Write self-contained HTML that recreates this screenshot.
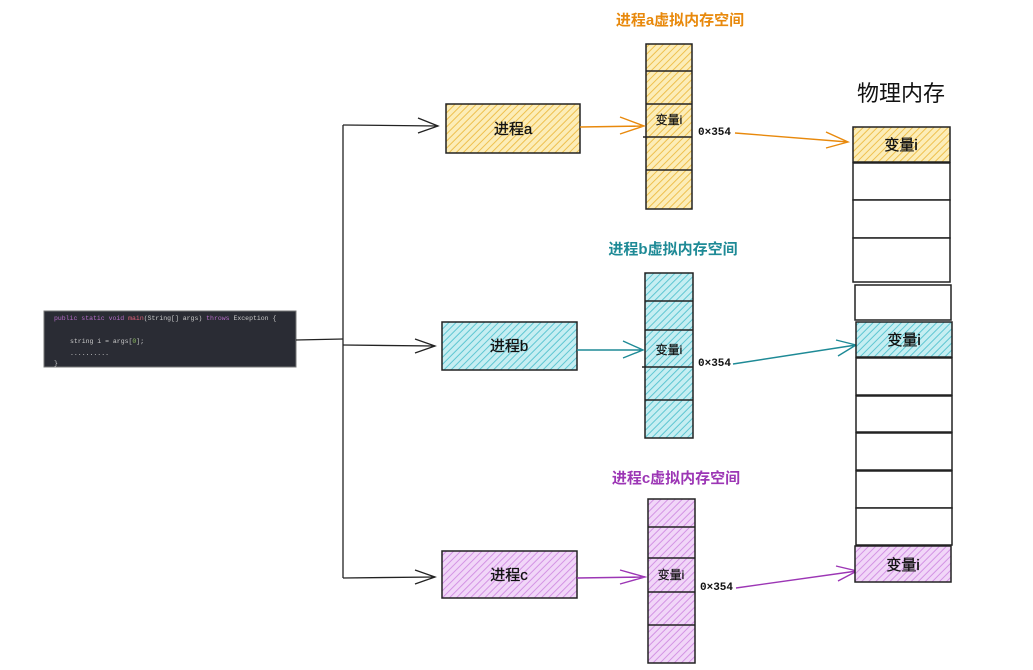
<!DOCTYPE html>
<html><head><meta charset="utf-8"><style>
html,body{margin:0;padding:0;background:#fff;}
svg{display:block;font-family:"Liberation Sans","Noto Sans CJK SC",sans-serif;}
</style></head><body>
<svg width="1033" height="670" viewBox="0 0 1033 670" xmlns="http://www.w3.org/2000/svg">
<defs>
<pattern id="hy" width="5" height="5" patternUnits="userSpaceOnUse" patternTransform="rotate(45)"><rect width="5" height="5" fill="#fcedb8"/><line x1="0" y1="0" x2="0" y2="5" stroke="#eec04e" stroke-width="2"/></pattern>
<pattern id="hc" width="5" height="5" patternUnits="userSpaceOnUse" patternTransform="rotate(45)"><rect width="5" height="5" fill="#c6eef2"/><line x1="0" y1="0" x2="0" y2="5" stroke="#5ec6d2" stroke-width="2"/></pattern>
<pattern id="hp" width="5" height="5" patternUnits="userSpaceOnUse" patternTransform="rotate(45)"><rect width="5" height="5" fill="#f1d6f8"/><line x1="0" y1="0" x2="0" y2="5" stroke="#d393e4" stroke-width="2"/></pattern>
</defs>

<rect x="44" y="311" width="252" height="56" fill="#2a2c34" stroke="#777" stroke-width="1"/>
<g font-family="Liberation Mono, monospace" font-size="6.5" fill="#c8c8c8">
<text x="54" y="320"><tspan fill="#b56cc8">public static void </tspan><tspan fill="#e0607a">main</tspan>(String[] args) <tspan fill="#b56cc8">throws</tspan> Exception {</text>
<text x="70" y="343">string i = args[<tspan fill="#8fc060">0</tspan>];</text>
<text x="70" y="355">..........</text>
<text x="54" y="365">}</text>
</g>

<g stroke="#222" stroke-width="1.3" fill="none">
<path d="M296 340 L343 339"/>
<path d="M343 125 L343 578"/>
<path d="M343 125 L438 126"/><path d="M418 118 L438 126 L418 133"/>
<path d="M343 345 L435 346"/><path d="M415 339 L435 346 L415 353"/>
<path d="M343 578 L435 577"/><path d="M415 570 L435 577 L415 584"/>
</g>

<g stroke="#222" stroke-width="1.5">
<rect x="446" y="104" width="134" height="49" fill="url(#hy)"/>
<rect x="442" y="322" width="135" height="48" fill="url(#hc)"/>
<rect x="442" y="551" width="135" height="47" fill="url(#hp)"/>
</g>
<g font-size="15" fill="#111" text-anchor="middle" stroke="#111" stroke-width="0.3">
<text x="513" y="134">进程a</text>
<text x="509" y="351">进程b</text>
<text x="509" y="580">进程c</text>
</g>

<g stroke="#222" stroke-width="1.5">
<rect x="646" y="44" width="46" height="165" fill="url(#hy)"/>
<rect x="645" y="273" width="48" height="165" fill="url(#hc)"/>
<rect x="648" y="499" width="47" height="164" fill="url(#hp)"/>
<path d="M646 71H692M646 104H692M643 137H692M646 170H692"/>
<path d="M645 301H693M645 330H693M642 367H693M645 400H693"/>
<path d="M648 527H695M648 558H695M648 592H695M648 625H695"/>
</g>
<g font-size="12" fill="#111" text-anchor="middle" stroke="#111" stroke-width="0.2">
<text x="669" y="124">变量i</text>
<text x="669" y="354">变量i</text>
<text x="671" y="579">变量i</text>
</g>
<g font-size="15" font-weight="bold" text-anchor="middle">
<text x="680" y="25" fill="#e8890c">进程a虚拟内存空间</text>
<text x="673" y="254" fill="#1e8a96">进程b虚拟内存空间</text>
<text x="676" y="483" fill="#9c36b5">进程c虚拟内存空间</text>
</g>

<g fill="none" stroke-width="1.4">
<path d="M580 127 L644 126 M620 117 L644 126 L620 134" stroke="#e8890c"/>
<path d="M735 133 L848 142 M826 132 L848 142 L826 148" stroke="#e8890c"/>
<path d="M577 350 L643 350 M623 341 L643 350 L623 358" stroke="#1e8a96"/>
<path d="M733 364 L856 345 M836 340 L856 345 L838 356" stroke="#1e8a96"/>
<path d="M577 578 L645 577 M620 570 L645 577 L620 584" stroke="#9c36b5"/>
<path d="M736 588 L857 571 M836 566 L857 571 L838 581" stroke="#9c36b5"/>
</g>
<g font-family="Liberation Mono, monospace" font-size="11" fill="#111" font-weight="bold">
<text x="698" y="135">0×354</text>
<text x="698" y="366">0×354</text>
<text x="700" y="590">0×354</text>
</g>

<text x="901" y="101" font-size="22" text-anchor="middle" fill="#111">物理内存</text>
<g stroke="#222" stroke-width="1.5" fill="#fff">
<rect x="853" y="127" width="97" height="35" fill="url(#hy)"/>
<rect x="853" y="163" width="97" height="37"/>
<rect x="853" y="200" width="97" height="38"/>
<rect x="853" y="238" width="97" height="44"/>
<rect x="855" y="285" width="96" height="35"/>
<rect x="856" y="322" width="96" height="35" fill="url(#hc)"/>
<rect x="856" y="358" width="96" height="37"/>
<rect x="856" y="396" width="96" height="36"/>
<rect x="856" y="433" width="96" height="37"/>
<rect x="856" y="471" width="96" height="37"/>
<rect x="856" y="508" width="96" height="37"/>
<rect x="855" y="546" width="96" height="36" fill="url(#hp)"/>
</g>
<g font-size="15" fill="#111" text-anchor="middle" stroke="#111" stroke-width="0.3">
<text x="901" y="150">变量i</text>
<text x="904" y="345">变量i</text>
<text x="903" y="570">变量i</text>
</g>
</svg>
</body></html>
